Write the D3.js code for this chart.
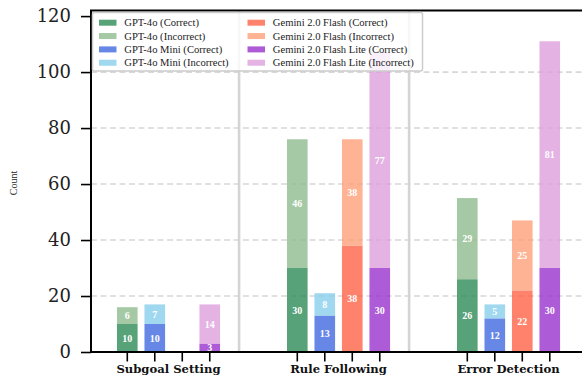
<!DOCTYPE html>
<html><head><meta charset="utf-8">
<script src="https://cdn.jsdelivr.net/npm/d3@7/dist/d3.min.js"></script>
<style>body{margin:0;background:#fff}svg{display:block}</style>
</head><body>
<svg id="chart" width="582" height="378"></svg>
<script>
const categories = ["Subgoal Setting", "Rule Following", "Error Detection"];
const models = ["GPT-4o", "GPT-4o Mini", "Gemini 2.0 Flash", "Gemini 2.0 Flash Lite"];
const correct = {
  "GPT-4o": [10, 30, 26],
  "GPT-4o Mini": [10, 13, 12],
  "Gemini 2.0 Flash": [0, 38, 22],
  "Gemini 2.0 Flash Lite": [3, 30, 30]
};
const incorrect = {
  "GPT-4o": [6, 46, 29],
  "GPT-4o Mini": [7, 8, 5],
  "Gemini 2.0 Flash": [0, 38, 25],
  "Gemini 2.0 Flash Lite": [14, 77, 81]
};
const correctColors = ["#2E8B57", "#4169E1", "#FF6347", "#9932CC"];
const incorrectColors = ["#8FBC8F", "#87CEEB", "#FFA07A", "#DDA0DD"];
const yTicks = [0, 20, 40, 60, 80, 100, 120];

const svg = d3.select("#chart");
const pLeft = 91, pRight = 583, pTop = 10.5, pBottom = 352;
const serif = "'Liberation Serif', 'Times New Roman', serif";

const x = d3.scaleLinear().domain([-0.456, 2.438]).range([pLeft, pRight]);
const y = d3.scaleLinear().domain([0, 122]).range([pBottom, pTop]);
const unit = x(1) - x(0);
const inner = d3.scaleBand().domain(models).range([-2 * 0.1718, 2 * 0.1718]).padding(0.25);

// grid
svg.append("g").selectAll("line").data(yTicks.filter(d => d > 0 && d < 120)).join("line")
  .attr("x1", pLeft).attr("x2", pRight).attr("y1", d => y(d)).attr("y2", d => y(d))
  .attr("stroke", "#d8d8d8").attr("stroke-width", 1.6).attr("stroke-dasharray", "6,3.5");

// separators
svg.append("g").selectAll("line").data([0.415, 1.415]).join("line")
  .attr("x1", d => x(d)).attr("x2", d => x(d)).attr("y1", pTop).attr("y2", pBottom)
  .attr("stroke", "#d4d4d4").attr("stroke-width", 2.6);

// bars
const barsG = svg.append("g");
const labels = [];
categories.forEach((cat, ci) => {
  models.forEach((m, mi) => {
    const cx = x(ci + inner(m));
    const w = inner.bandwidth() * unit;
    const c = correct[m][ci], ic = incorrect[m][ci];
    if (c > 0) {
      barsG.append("rect").attr("x", cx).attr("width", w)
        .attr("y", y(c)).attr("height", y(0) - y(c))
        .attr("fill", correctColors[mi]).attr("fill-opacity", 0.8);
      labels.push({x: cx + w / 2, y: y(c / 2), t: c});
    }
    if (ic > 0) {
      barsG.append("rect").attr("x", cx).attr("width", w)
        .attr("y", y(c + ic)).attr("height", y(c) - y(c + ic))
        .attr("fill", incorrectColors[mi]).attr("fill-opacity", 0.8);
      labels.push({x: cx + w / 2, y: y(c + ic / 2), t: ic});
    }
  });
});
svg.append("g").selectAll("text").data(labels).join("text")
  .attr("x", d => d.x).attr("y", d => d.y).attr("dy", "0.35em")
  .attr("text-anchor", "middle").attr("fill", "#fff")
  .attr("font-family", serif).attr("font-weight", "bold").attr("font-size", 10)
  .text(d => d.t);

// spines
svg.append("rect").attr("x", pLeft).attr("y", pTop).attr("width", pRight - pLeft).attr("height", pBottom - pTop)
  .attr("fill", "none").attr("stroke", "#000").attr("stroke-width", 2);

// y axis
const yAxis = svg.append("g").attr("transform", `translate(${pLeft},0)`)
  .call(d3.axisLeft(y).tickValues(yTicks).tickSize(10).tickPadding(10));
yAxis.select(".domain").remove();
yAxis.selectAll("line").attr("stroke", "#000").attr("stroke-width", 1.6);
yAxis.selectAll("text").attr("font-family", "DejaVu Serif").attr("font-size", 18).attr("fill", "#222");

// x axis
const xTickVals = [];
categories.forEach((cat, ci) => models.forEach(m => xTickVals.push(ci + inner(m) + inner.bandwidth() / 2)));
svg.append("g").selectAll("line").data(xTickVals).join("line")
  .attr("x1", d => x(d)).attr("x2", d => x(d)).attr("y1", pBottom).attr("y2", pBottom + 9.5)
  .attr("stroke", "#000").attr("stroke-width", 1.6);
svg.append("g").selectAll("text").data(categories).join("text")
  .attr("x", (d, i) => x(i)).attr("y", 373)
  .attr("text-anchor", "middle").attr("font-family", "DejaVu Serif").attr("font-weight", "bold")
  .attr("font-size", 11.6).attr("fill", "#111").text(d => d);

// y label
svg.append("text").attr("transform", "translate(17,183) rotate(-90)")
  .attr("text-anchor", "middle").attr("font-family", serif).attr("font-size", 10)
  .attr("fill", "#222").text("Count");

// legend
const lg = svg.append("g");
lg.append("rect").attr("x", 92.5).attr("y", 12.5).attr("width", 330).attr("height", 58.5)
  .attr("rx", 2).attr("fill", "#fff").attr("fill-opacity", 0.8)
  .attr("stroke", "#cccccc").attr("stroke-width", 1.5);
const legendItems = [];
models.forEach((m, mi) => {
  legendItems.push({label: `${m} (Correct)`, color: correctColors[mi]});
  legendItems.push({label: `${m} (Incorrect)`, color: incorrectColors[mi]});
});
legendItems.forEach((d, i) => {
  const col = Math.floor(i / 4), row = i % 4;
  const sx = col === 0 ? 99 : 247.5, ty = 22.7 + row * 13.35;
  lg.append("rect").attr("x", sx).attr("y", ty - 3).attr("width", 17.5).attr("height", 6)
    .attr("fill", d.color).attr("fill-opacity", 0.8);
  lg.append("text").attr("x", sx + 25.3).attr("y", ty).attr("dy", "0.35em")
    .attr("font-family", serif).attr("font-size", 10.6).attr("fill", "#222").text(d.label);
});
</script>
</body></html>
